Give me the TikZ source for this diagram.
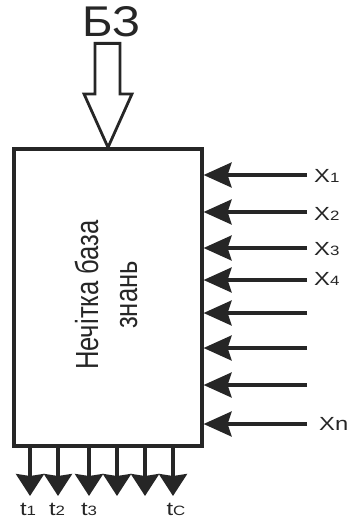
\documentclass[tikz,border=0pt]{standalone}
\usepackage{fontspec}
\setmainfont{Liberation Sans}
\newfontfamily\narrowfont[FakeStretch=0.8]{Liberation Sans}
\newfontfamily\widefont[FakeStretch=1.25]{Liberation Sans}
\newfontfamily\titlefont[FakeStretch=1.08]{Liberation Sans}
\usetikzlibrary{arrows.meta}

\begin{document}
\begin{tikzpicture}[x=1pt,y=-1pt,
  block/.style={draw=black!85, line width=3.2pt, inner sep=0pt,
    minimum width=188pt, minimum height=297pt},
  hollowarrow/.style={draw=black!85, line width=2.8pt, fill=white, line join=miter},
  inarrow/.style={draw=black!85, line width=3.2pt,
    -{Stealth[length=28pt,width=25pt,inset=4pt]}},
  outarrow/.style={draw=black!85, line width=3.4pt,
    -{Stealth[length=22pt,width=28pt,inset=2pt]}},
  lbl/.style={inner sep=0pt, text=black!85, font=\widefont\fontsize{19}{19}\selectfont},
  boxtext/.style={inner sep=0pt, text=black!85, rotate=90, anchor=base,
    font=\narrowfont\fontsize{32}{32}\selectfont},
]
\useasboundingbox (0,0) rectangle (348,519);
\newcommand{\sub}[1]{{\fontsize{13.5}{13.5}\selectfont #1}}

% knowledge base block
\node[block] (kb) at (108,297.5) {};
\node[boxtext] (kbline1) at (98,295) {Нечітка база};
\node[boxtext] (kbline2) at (137,295) {знань};

% knowledge base input (hollow arrow) and its label
\coordinate (bztip) at (kb.north);
\draw[hollowarrow, shift={(bztip)}]
  (-13,-104) -- (12,-104) -- (12,-53.5) -- (24,-53.5) -- (0,0)
  -- (-24,-53.5) -- (-13,-53.5) -- cycle;
\node[inner sep=0pt, text=black!85, anchor=base,
  font=\titlefont\fontsize{43}{43}\selectfont] (bz) at (112,37) {БЗ};

% inputs x_i
\foreach \yy [count=\i] in {175,212,248,280,313,348,385,424} {
  \coordinate (xin\i) at (307,\yy);
  \draw[inarrow] (xin\i) -- (xin\i -| kb.east);
}
\node[lbl, anchor=base west] (lx1) at (314,182) {X\sub{1}};
\node[lbl, anchor=base west] (lx2) at (314,220) {X\sub{2}};
\node[lbl, anchor=base west] (lx3) at (314,255) {X\sub{3}};
\node[lbl, anchor=base west] (lx4) at (314,285) {X\sub{4}};
\node[lbl, anchor=base west] (lxn) at (319,430) {Xn};

% outputs t_j
\foreach \xx [count=\i] in {30,58,89,117,145,173} {
  \coordinate (tout\i) at (\xx,496);
  \draw[outarrow] (tout\i |- kb.south) -- (tout\i);
}
\node[lbl, anchor=base] (lt1) at (28,515) {t\sub{1}};
\node[lbl, anchor=base] (lt2) at (57,515) {t\sub{2}};
\node[lbl, anchor=base] (lt3) at (89,515) {t\sub{3}};
\node[lbl, anchor=base] (ltc) at (176,515) {t\sub{C}};
\end{tikzpicture}
\end{document}
